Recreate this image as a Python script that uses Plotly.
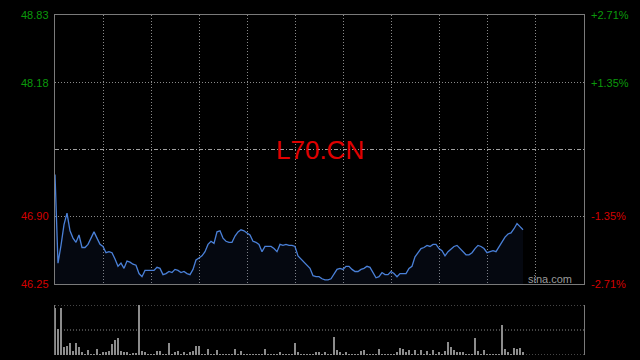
import plotly.graph_objects as go

# ---- data ----
symbol = "L70.CN"
prev_close = 47.54
price_levels = [48.83, 48.18, 47.54, 46.90, 46.25]
left_labels = ["48.83", "48.18", "", "46.90", "46.25"]
right_labels = ["+2.71%", "+1.35%", "", "-1.35%", "-2.71%"]

prices = [
    47.30, 46.45, 46.62, 46.82, 46.93, 46.76, 46.69, 46.65, 46.72, 46.60,
    46.60, 46.63, 46.69, 46.75, 46.69, 46.63, 46.61, 46.55, 46.56, 46.55,
    46.49, 46.42, 46.45, 46.40, 46.47, 46.46, 46.44, 46.43, 46.35, 46.32,
    46.38, 46.38, 46.38, 46.38, 46.41, 46.40, 46.34, 46.35, 46.37, 46.36,
    46.39, 46.38, 46.36, 46.37, 46.35, 46.34, 46.39, 46.48, 46.50, 46.52,
    46.56, 46.63, 46.66, 46.64, 46.75, 46.76, 46.69, 46.66, 46.65, 46.65,
    46.71, 46.75, 46.77, 46.76, 46.74, 46.72, 46.66, 46.65, 46.63, 46.56,
    46.61, 46.61, 46.61, 46.59, 46.56, 46.63, 46.62, 46.63, 46.62, 46.62,
    46.61, 46.52, 46.49, 46.45, 46.42, 46.40, 46.33, 46.32, 46.32, 46.30,
    46.29, 46.29, 46.30, 46.35, 46.39, 46.40, 46.39, 46.42, 46.42, 46.39,
    46.37, 46.37, 46.39, 46.40, 46.42, 46.41, 46.36, 46.31, 46.32, 46.36,
    46.34, 46.34, 46.37, 46.35, 46.32, 46.35, 46.35, 46.35, 46.40, 46.42,
    46.51, 46.55, 46.59, 46.60, 46.62, 46.61, 46.63, 46.63, 46.59, 46.57,
    46.52, 46.56, 46.59, 46.61, 46.62, 46.59, 46.56, 46.53, 46.53, 46.55,
    46.59, 46.62, 46.61, 46.59, 46.55, 46.56, 46.57, 46.56, 46.61, 46.66,
    46.70, 46.73, 46.74, 46.78, 46.83, 46.80, 46.77,
]

volumes = [
    47, 26, 47, 8, 9, 12, 4, 12, 8, 3,
    1, 5, 1, 1, 6, 1, 3, 3, 4, 11,
    15, 17, 4, 3, 3, 1, 2, 2, 50, 4,
    3, 1, 1, 1, 4, 4, 1, 1, 12, 1,
    3, 4, 1, 3, 1, 3, 4, 9, 9, 1,
    1, 6, 1, 1, 5, 1, 1, 1, 1, 1,
    6, 1, 4, 1, 1, 1, 1, 1, 1, 1,
    6, 1, 1, 1, 1, 3, 1, 1, 1, 1,
    12, 3, 1, 1, 1, 1, 1, 3, 3, 1,
    3, 1, 1, 18, 5, 3, 1, 3, 1, 1,
    1, 1, 4, 5, 1, 1, 1, 1, 6, 1,
    1, 1, 1, 1, 3, 7, 6, 3, 5, 1,
    5, 1, 5, 1, 4, 1, 5, 1, 3, 1,
    4, 13, 8, 5, 3, 3, 3, 1, 1, 1,
    17, 4, 1, 5, 1, 1, 1, 1, 1, 30,
    6, 3, 1, 7, 6, 7, 3,
]

n_slots = 176.33          # full session length in slots
vol_max = 50
idx = list(range(len(prices)))

# ---- styling ----
GREEN = "#0b9a0b"
RED = "#d40000"
GRID = "#8a8a8a"
FRAME = "#7a7a7a"
DOT = "1px,2px"
FONT = "Liberation Sans, Arial, sans-serif"

fig = go.Figure()

fig.add_trace(go.Scatter(
    x=idx, y=prices, mode="lines",
    line=dict(color="#4a80d8", width=1.3),
    fill="tozeroy", fillcolor="rgba(40,60,120,0.13)",
    hoverinfo="skip", xaxis="x", yaxis="y",
))

fig.add_trace(go.Bar(
    x=idx, y=volumes, width=0.3,
    marker=dict(color="#8c8c8c", line=dict(width=0)),
    hoverinfo="skip", xaxis="x2", yaxis="y2",
))

vgrid = [n_slots * k / 11 for k in range(1, 11)]

fig.update_layout(
    width=640, height=360,
    margin=dict(l=0, r=0, t=0, b=0),
    paper_bgcolor="black", plot_bgcolor="black",
    showlegend=False, bargap=0,
    xaxis=dict(domain=[55 / 640, 584 / 640], range=[0, n_slots],
               tickvals=vgrid, showticklabels=False, ticks="",
               showgrid=True, gridcolor=GRID, griddash=DOT, gridwidth=1,
               showline=True, linecolor=FRAME, linewidth=1, mirror=True,
               zeroline=False, fixedrange=True),
    yaxis=dict(domain=[(360 - 284) / 360, (360 - 15) / 360],
               range=[price_levels[-1], price_levels[0]],
               tickvals=[price_levels[1], price_levels[3]],
               showticklabels=False, ticks="",
               showgrid=True, gridcolor=GRID, griddash=DOT, gridwidth=1,
               showline=True, linecolor=FRAME, linewidth=1, mirror=True,
               zeroline=False, fixedrange=True),
    xaxis2=dict(domain=[55 / 640, 584 / 640], range=[0, n_slots], anchor="y2",
                showticklabels=False, ticks="", showgrid=False,
                showline=False, zeroline=False, fixedrange=True),
    yaxis2=dict(domain=[(360 - 355) / 360, (360 - 305) / 360],
                range=[0, vol_max], anchor="x2",
                showticklabels=False, ticks="", showgrid=False,
                showline=True, linecolor=FRAME, linewidth=1, mirror=True,
                zeroline=False, fixedrange=True),
)

# previous close line (dash-dot)
fig.add_shape(type="line", xref="x", yref="y", x0=0, x1=n_slots,
              y0=prev_close, y1=prev_close,
              line=dict(color="#a0a0a0", width=1, dash="4px,2px,1px,2px"))

# volume panel dotted guides
for v in [0, vol_max / 2, vol_max]:
    fig.add_shape(type="line", xref="x2", yref="y2", x0=0, x1=n_slots,
                  y0=v, y1=v, line=dict(color=GRID, width=1, dash=DOT))

# price / percent labels
for lvl, lt, rt in zip(price_levels, left_labels, right_labels):
    if not lt:
        continue
    col = GREEN if lvl > prev_close else RED
    fig.add_annotation(xref="paper", yref="y", x=51 / 640, y=lvl,
                       text=lt, showarrow=False, xanchor="right", yanchor="middle",
                       font=dict(family=FONT, size=11, color=col))
    fig.add_annotation(xref="paper", yref="y", x=589 / 640, y=lvl,
                       text=rt, showarrow=False, xanchor="left", yanchor="middle",
                       font=dict(family=FONT, size=11, color=col))

# symbol title
fig.add_annotation(xref="paper", yref="y", x=320 / 640, y=prev_close,
                   text=symbol, showarrow=False, xanchor="center", yanchor="middle",
                   font=dict(family=FONT, size=26, color="#e00000"))

# watermark
fig.add_annotation(xref="paper", yref="paper", x=574 / 640, y=(360 - 279) / 360,
                   text="sina.com", showarrow=False, xanchor="right", yanchor="middle",
                   font=dict(family=FONT, size=11, color="#9a9a9a"))

fig.write_html("out.html")
